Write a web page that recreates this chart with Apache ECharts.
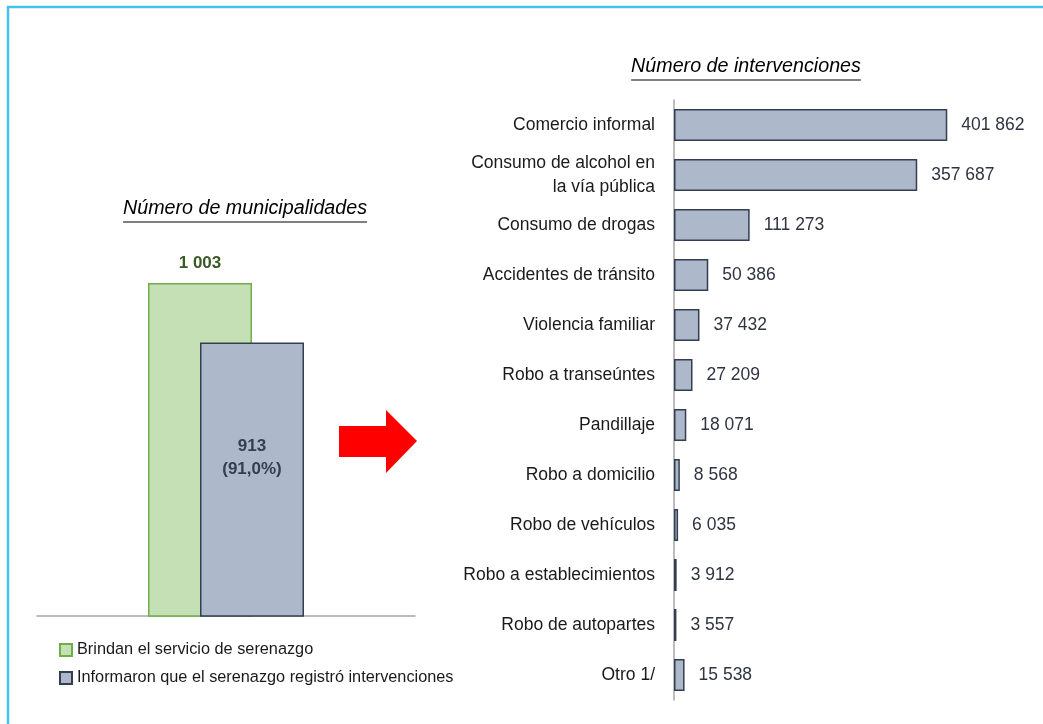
<!DOCTYPE html>
<html>
<head>
<meta charset="utf-8">
<script src="https://cdn.jsdelivr.net/npm/echarts@6/dist/echarts.min.js"></script>
<style>html,body{margin:0;padding:0;background:#fff;}#c{width:1043px;height:724px;}</style>
</head>
<body>
<div id="c"></div>
<script>
// ---- data ----
const leftCategories = ['Municipalidades'];
const brindanValues = [1003];
const informaronValues = [913];
const informaronPct = ['91,0%'];
const legendNames = ['Brindan el servicio de serenazgo', 'Informaron que el serenazgo registró intervenciones'];
const leftTitle = 'Número de municipalidades';
const rightTitle = 'Número de intervenciones';
const categories = [
  'Comercio informal',
  'Consumo de alcohol en\nla vía pública',
  'Consumo de drogas',
  'Accidentes de tránsito',
  'Violencia familiar',
  'Robo a transeúntes',
  'Pandillaje',
  'Robo a domicilio',
  'Robo de vehículos',
  'Robo a establecimientos',
  'Robo de autopartes',
  'Otro 1/'
];
const interventions = [401862, 357687, 111273, 50386, 37432, 27209, 18071, 8568, 6035, 3912, 3557, 15538];

// ---- helpers ----
const FONT = '"Liberation Sans", Arial, sans-serif';
function fmt(n) { return String(n).replace(/\B(?=(\d{3})+(?!\d))/g, ' '); }
function textWidth(str, font) {
  const c = document.createElement('canvas').getContext('2d');
  c.font = font; return c.measureText(str).width;
}
function underlinedTitle(text, cx, cy) {
  const font = 'italic 19.7px "Liberation Sans", Arial, sans-serif';
  const w = textWidth(text, font);
  return [
    { type: 'text', left: cx - w / 2, top: cy - 11, z: 10,
      style: { text: text, font: font, fill: '#000' } },
    { type: 'line', z: 10,
      shape: { x1: cx - w / 2, y1: cy + 12, x2: cx + w / 2, y2: cy + 12 },
      style: { stroke: '#000', lineWidth: 1 } }
  ];
}

const chart = echarts.init(document.getElementById('c'), null, { renderer: 'canvas' });

const option = {
  animation: false,
  backgroundColor: '#fff',
  textStyle: { fontFamily: FONT },
  grid: [
    { left: 37, width: 378, top: 218.8, height: 397.2 },
    { left: 674, top: 100, height: 600, right: 29 }
  ],
  xAxis: [
    { gridIndex: 0, type: 'category', data: leftCategories,
      axisLine: { lineStyle: { color: '#a6a6a6', width: 1.5 } },
      axisTick: { show: false }, axisLabel: { show: false } },
    { gridIndex: 1, type: 'value', min: 0, max: 500000, show: false, splitLine: { show: false } }
  ],
  yAxis: [
    { gridIndex: 0, type: 'value', min: 500, max: 1100, show: false, splitLine: { show: false } },
    { gridIndex: 1, type: 'category', data: categories, inverse: true,
      axisLine: { lineStyle: { color: '#a6a6a6', width: 1.5 } },
      axisTick: { show: false },
      axisLabel: { fontSize: 17.5, color: '#1a1a1a', margin: 19, lineHeight: 24, fontFamily: FONT } }
  ],
  legend: {
    orient: 'vertical', left: 54, top: 636, itemGap: 10,
    itemWidth: 12, itemHeight: 12, icon: 'rect',
    textStyle: { fontSize: 16.3, color: '#1a1a1a', lineHeight: 18, fontFamily: FONT },
    data: legendNames
  },
  series: [
    { name: legendNames[0], type: 'bar', xAxisIndex: 0, yAxisIndex: 0,
      data: brindanValues, barWidth: 104, barGap: '-50%',
      itemStyle: { color: '#c5e0b4', borderColor: '#70ad47', borderWidth: 1.5 },
      label: { show: true, position: 'top', distance: 11, fontSize: 17, fontWeight: 'bold',
        color: '#3a5a25', formatter: p => fmt(p.value) } },
    { name: legendNames[1], type: 'bar', xAxisIndex: 0, yAxisIndex: 0,
      data: informaronValues, barWidth: 104, barGap: '-50%',
      itemStyle: { color: '#adb9ca', borderColor: '#333f50', borderWidth: 1.5 },
      label: { show: true, position: 'inside', offset: [0, -22], fontSize: 17, fontWeight: 'bold',
        color: '#333f50', lineHeight: 23,
        formatter: p => fmt(p.value) + '\n(' + informaronPct[p.dataIndex] + ')' } },
    { name: 'Intervenciones', type: 'bar', xAxisIndex: 1, yAxisIndex: 1,
      data: interventions, barWidth: 32,
      itemStyle: { color: '#adb9ca', borderColor: '#333f50', borderWidth: 1.5 },
      label: { show: true, position: 'right', distance: 14, fontSize: 17.5,
        color: '#2e3440', formatter: p => fmt(p.value) } }
  ],
  graphic: [
    { type: 'rect', z: 0, shape: { x: 8, y: 7, width: 1100, height: 800 },
      style: { fill: 'none', stroke: '#45c1ee', lineWidth: 2.5 } },
    { type: 'polygon', z: 5,
      shape: { points: [[339,426],[386,426],[386,410],[417,441],[386,473],[386,457],[339,457]] },
      style: { fill: '#ff0000' } }
  ].concat(underlinedTitle(leftTitle, 245, 210)).concat(underlinedTitle(rightTitle, 746, 68))
};
chart.setOption(option);
</script>
</body>
</html>
